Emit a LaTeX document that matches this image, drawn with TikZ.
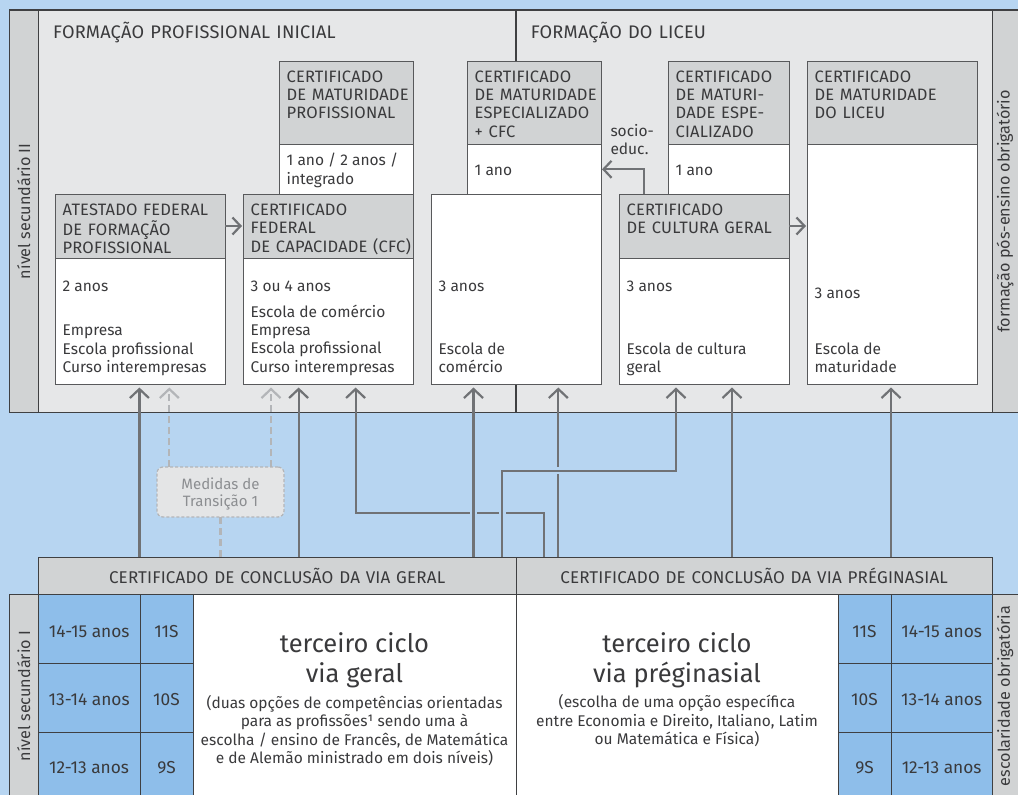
\documentclass[tikz,border=0pt]{standalone}
\usepackage{fontspec}
\setmainfont{Fira Sans}
\newfontfamily\capsfont{Fira Sans}[LetterSpace=1.0,WordSpace=1.25]
\usetikzlibrary{arrows.meta,calc}
\definecolor{bgblue}{HTML}{B7D5F1}
\definecolor{panelgray}{HTML}{E6E7E8}
\definecolor{hdrgray}{HTML}{D1D3D4}
\definecolor{cellblue}{HTML}{8EBEEA}
\definecolor{frameline}{HTML}{3F4042}
\definecolor{boxline}{HTML}{58595B}
\definecolor{arrgray}{HTML}{707275}
\definecolor{dashgray}{HTML}{B3B5B8}
\definecolor{txtgray}{HTML}{3A3A3C}
\definecolor{medtxt}{HTML}{8C8E91}
\definecolor{medfill}{HTML}{E4E5E6}
\newcommand{\tlines}[1]{\begin{tabular}[t]{@{}l@{}}#1\end{tabular}}
\newcommand{\tclines}[1]{\begin{tabular}[t]{@{}c@{}}#1\end{tabular}}
\begin{document}
\begin{tikzpicture}[x=1pt,y=-1pt,
  rbox/.style={draw=boxline, line width=1pt, anchor=north west, inner sep=0pt, outer sep=0pt},
  hdr/.style={rbox, fill=hdrgray},
  wbox/.style={rbox, fill=white},
  txt/.style={anchor=base west, inner sep=0pt, text=txtgray, font=\fontsize{15.5}{18.4}\selectfont},
  captxt/.style={anchor=base west, inner sep=0pt, text=txtgray, font=\capsfont\fontsize{16.5}{18.4}\selectfont},
  ctxt/.style={anchor=base, inner sep=0pt, text=txtgray, font=\fontsize{15.5}{18.4}\selectfont},
  ccaptxt/.style={anchor=base, inner sep=0pt, text=txtgray, font=\capsfont\fontsize{17}{18.4}\selectfont},
  cell/.style={anchor=base, inner sep=0pt, text=txtgray, font=\fontsize{17.3}{20}\selectfont},
  rtxt/.style={anchor=center, inner sep=0pt, rotate=90, text=txtgray, font=\fontsize{16.2}{18}\selectfont},
  big/.style={anchor=base, inner sep=0pt, text=txtgray, font=\fontsize{25.5}{29.7}\selectfont},
  arr/.style={draw=arrgray, line width=2.2pt, -{Straight Barb[length=9pt,width=19pt]}, shorten >=3.5pt},
  harr/.style={draw=arrgray, line width=2.2pt, -{Straight Barb[length=8pt,width=17pt]}, shorten >=1pt},
  halo/.style={draw=bgblue, line width=7pt},
  dasharr/.style={draw=dashgray, line width=2.2pt, dash pattern=on 7pt off 4pt, -{Straight Barb[length=9pt,width=19pt]}, shorten >=3.5pt},
  dashline/.style={draw=dashgray, line width=2.2pt, dash pattern=on 7pt off 4pt},
]
\useasboundingbox (0,0) rectangle (1018,795);
\clip (0,0) rectangle (1018,795);
\fill[bgblue] (0,0) rectangle (1018,795);

% ---------- top panel ----------
\node[rbox, draw=frameline, line width=1.2pt, fill=panelgray, minimum width=1020pt, minimum height=402.7pt] (panel) at (9.3,10) {};
\node[rbox, draw=frameline, line width=1.2pt, fill=hdrgray, minimum width=29pt, minimum height=402.7pt] (lstrip) at (9.3,10) {};
\node[rbox, draw=frameline, line width=1.2pt, fill=hdrgray, minimum width=40pt, minimum height=402.7pt] (rstrip) at (992.3,10) {};
\draw[frameline, line width=1.2pt] (panel.north -| 516,0) coordinate (dv1) -- (dv1 |- panel.south);
\node[rtxt] (lbl1) at (lstrip.center) {nível secundário II};
\node[rtxt] (lbl2) at ($(rstrip.west)+(12.7,0)$) {formação pós-ensino obrigatório};
\node[captxt, font=\capsfont\fontsize{18.2}{18.4}\selectfont] (t1) at (53,38.5) {FORMAÇÃO PROFISSIONAL INICIAL};
\node[captxt, font=\capsfont\fontsize{18.2}{18.4}\selectfont] (t2) at (530.7,38.5) {FORMAÇÃO DO LICEU};

% box 1
\node[hdr, minimum width=170pt, minimum height=64pt] (h1) at (55,194) {};
\node[wbox, minimum width=170pt, minimum height=126pt] (b1) at (55,258) {};
\node[captxt] at ($(h1.north west)+(7.5,21)$) {\tlines{ATESTADO FEDERAL\\DE FORMAÇÃO\\PROFISSIONAL}};
\node[txt] at ($(b1.north west)+(7.5,33.7)$) {2 anos};
\node[txt] at ($(b1.north west)+(7.5,77.7)$) {\tlines{Empresa\\Escola profissional\\Curso interempresas}};
% box 2
\node[hdr, minimum width=170pt, minimum height=64pt] (h2) at (243,194) {};
\node[wbox, minimum width=170pt, minimum height=126pt] (b2) at (243,258) {};
\node[captxt] at ($(h2.north west)+(7.5,21)$) {\tlines{CERTIFICADO\\FEDERAL\\DE CAPACIDADE (CFC)}};
\node[txt] at ($(b2.north west)+(7.5,33.7)$) {3 ou 4 anos};
\node[txt] at ($(b2.north west)+(7.5,59)$) {\tlines{Escola de comércio\\Empresa\\Escola profissional\\Curso interempresas}};
% box 3
\node[hdr, minimum width=134pt, minimum height=83pt] (h3) at (279,61) {};
\node[wbox, minimum width=134pt, minimum height=50pt] (b3) at (279,144) {};
\node[captxt] at ($(h3.north west)+(7.5,21)$) {\tlines{CERTIFICADO\\DE MATURIDADE\\PROFISSIONAL}};
\node[txt] at ($(b3.north west)+(7.5,21.7)$) {\tlines{1 ano / 2 anos /\\integrado}};
% box 4
\node[hdr, minimum width=134pt, minimum height=83pt] (h4) at (467,61) {};
\node[wbox, minimum width=134pt, minimum height=50pt] (b4) at (467,144) {};
\node[captxt] at ($(h4.north west)+(7.5,21)$) {\tlines{CERTIFICADO\\DE MATURIDADE\\ESPECIALIZADO\\+ CFC}};
\node[txt] at ($(b4.north west)+(7.5,31.7)$) {1 ano};
% box 5
\node[wbox, minimum width=170pt, minimum height=190pt] (b5) at (431,194) {};
\node[txt] at ($(b5.north west)+(7.5,97.7)$) {3 anos};
\node[txt] at ($(b5.north west)+(7.5,160)$) {\tlines{Escola de\\comércio}};
% box 6
\node[hdr, minimum width=121pt, minimum height=83pt] (h6) at (668,61) {};
\node[wbox, minimum width=121pt, minimum height=50pt] (b6) at (668,144) {};
\node[captxt] at ($(h6.north west)+(7.5,21)$) {\tlines{CERTIFICADO\\DE MATURI-\\DADE ESPE-\\CIALIZADO}};
\node[txt] at ($(b6.north west)+(7.5,31.7)$) {1 ano};
% box 7
\node[hdr, minimum width=170pt, minimum height=64pt] (h7) at (619,194) {};
\node[wbox, minimum width=170pt, minimum height=126pt] (b7) at (619,258) {};
\node[captxt] at ($(h7.north west)+(7.5,21)$) {\tlines{CERTIFICADO\\DE CULTURA GERAL}};
\node[txt] at ($(b7.north west)+(7.5,33.7)$) {3 anos};
\node[txt] at ($(b7.north west)+(7.5,96)$) {\tlines{Escola de cultura\\geral}};
% box 8
\node[hdr, minimum width=170pt, minimum height=83pt] (h8) at (807,61) {};
\node[wbox, minimum width=170pt, minimum height=240pt] (b8) at (807,144) {};
\node[captxt] at ($(h8.north west)+(7.5,21)$) {\tlines{CERTIFICADO\\DE MATURIDADE\\DO LICEU}};
\node[txt] at ($(b8.north west)+(7.5,154.3)$) {3 anos};
\node[txt] at ($(b8.north west)+(7.5,210)$) {\tlines{Escola de\\maturidade}};

% arrows inside panel
\draw[harr] (h1.east) -- (h2.west);
\draw[harr] (h7.east) -- (h7.east -| b8.west);
\coordinate (se0) at (644.3,194);
\coordinate (se1) at (644.3,169.3);
\draw[harr] (se0) -- (se1) -- (se1 -| b4.east);
\node[txt] (socio) at (610.3,136) {\tlines{socio-\\educ.}};

% ---------- bottom section ----------
\node[rbox, draw=frameline, fill=hdrgray, minimum width=477.7pt, minimum height=37pt] (cg) at (38.3,557) {};
\node[rbox, draw=frameline, fill=hdrgray, minimum width=476.3pt, minimum height=37pt] (cp) at (516,557) {};
\node[ccaptxt] at ($(cg.north)+(0,26.3)$) {CERTIFICADO DE CONCLUSÃO DA VIA GERAL};
\node[ccaptxt] at ($(cp.north)+(0,26.3)$) {CERTIFICADO DE CONCLUSÃO DA VIA PRÉGINASIAL};

\node[rbox, draw=frameline, fill=hdrgray, minimum width=29pt, minimum height=220pt] (ls2) at (9.3,594) {};
\node[rbox, draw=frameline, fill=hdrgray, minimum width=40pt, minimum height=220pt] (rs2) at (992.3,594) {};
\node[rtxt] at ($(ls2.north)+(0,102)$) {nível secundário I};
\node[rtxt] at ($(rs2.north west)+(12.7,102)$) {escolaridade obrigatória};

\node[rbox, draw=frameline, fill=white, minimum width=323pt, minimum height=220pt] (wg) at (193,594) {};
\node[rbox, draw=frameline, fill=white, minimum width=322pt, minimum height=220pt] (wp) at (516,594) {};

% cells left
\node[rbox, draw=frameline, fill=cellblue, minimum width=101.7pt, minimum height=69pt] (a1) at (38.3,594) {};
\node[rbox, draw=frameline, fill=cellblue, minimum width=53pt, minimum height=69pt] (c1) at (140,594) {};
\node[rbox, draw=frameline, fill=cellblue, minimum width=101.7pt, minimum height=69pt] (a2) at (38.3,663) {};
\node[rbox, draw=frameline, fill=cellblue, minimum width=53pt, minimum height=69pt] (c2) at (140,663) {};
\node[rbox, draw=frameline, fill=cellblue, minimum width=101.7pt, minimum height=80pt] (a3) at (38.3,732) {};
\node[rbox, draw=frameline, fill=cellblue, minimum width=53pt, minimum height=80pt] (c3) at (140,732) {};
% cells right
\node[rbox, draw=frameline, fill=cellblue, minimum width=53pt, minimum height=69pt] (c4) at (838,594) {};
\node[rbox, draw=frameline, fill=cellblue, minimum width=101.3pt, minimum height=69pt] (a4) at (891,594) {};
\node[rbox, draw=frameline, fill=cellblue, minimum width=53pt, minimum height=69pt] (c5) at (838,663) {};
\node[rbox, draw=frameline, fill=cellblue, minimum width=101.3pt, minimum height=69pt] (a5) at (891,663) {};
\node[rbox, draw=frameline, fill=cellblue, minimum width=53pt, minimum height=80pt] (c6) at (838,732) {};
\node[rbox, draw=frameline, fill=cellblue, minimum width=101.3pt, minimum height=80pt] (a6) at (891,732) {};

\node[cell] at ($(a1.north)+(0,43.3)$) {14-15 anos};
\node[cell] at ($(c1.north)+(0,43.3)$) {11S};
\node[cell] at ($(a2.north)+(0,42)$) {13-14 anos};
\node[cell] at ($(c2.north)+(0,42)$) {10S};
\node[cell] at ($(a3.north)+(0,41.3)$) {12-13 anos};
\node[cell] at ($(c3.north)+(0,41.3)$) {9S};
\node[cell] at ($(a4.north)+(0,43.3)$) {14-15 anos};
\node[cell] at ($(c4.north)+(0,43.3)$) {11S};
\node[cell] at ($(a5.north)+(0,42)$) {13-14 anos};
\node[cell] at ($(c5.north)+(0,42)$) {10S};
\node[cell] at ($(a6.north)+(0,41.3)$) {12-13 anos};
\node[cell] at ($(c6.north)+(0,41.3)$) {9S};

\node[big] at (354.5,652.3) {\tclines{terceiro ciclo\\via geral}};
\node[ctxt] at (354.5,708.3) {\tclines{(duas opções de competências orientadas\\para as profissões¹ sendo uma à\\escolha / ensino de Francês, de Matemática\\e de Alemão ministrado em dois níveis)}};
\node[big] at (677,652.3) {\tclines{terceiro ciclo\\via préginasial}};
\node[ctxt] at (677,707.7) {\tclines{(escolha de uma opção específica\\entre Economia e Direito, Italiano, Latim\\ou Matemática e Física)}};

% Medidas de transição
\node[rbox, draw=dashgray, fill=medfill, line width=1.2pt, dash pattern=on 3pt off 2pt, rounded corners=6pt, minimum width=127pt, minimum height=50pt] (med) at (157,467) {};
\node[anchor=base, inner sep=0pt, text=medtxt, font=\fontsize{15}{17.3}\selectfont] at ($(med.north)+(0,22.3)$) {\tclines{Medidas de\\Transição 1}};

% ---------- connectors ----------
\coordinate (d1) at (169.3,467);
\coordinate (d2) at (271,467);
\draw[dasharr] (d1) -- (d1 |- b1.south);
\draw[dasharr] (d2) -- (d2 |- b2.south);
\draw[dashline] (med.south) -- (med.south |- cg.north);

\coordinate (p1) at (139.4,557);
\coordinate (p2) at (298.6,557);
\coordinate (p6) at (544.3,557);
\coordinate (k6) at (355.6,513.3);
\coordinate (p3) at (473.5,557);
\coordinate (p7) at (502.3,557);
\coordinate (k7) at (676,470.7);
\coordinate (p8) at (558.3,557);
\coordinate (p9) at (732,557);
\coordinate (p10) at (891,557);

\draw[arr] (p1) -- (p1 |- b1.south);
\draw[arr] (p2) -- (p2 |- b2.south);
\draw[arr] (p6) |- (k6) -- (k6 |- b2.south);
\draw[arr] (p8) -- (p8 |- b5.south);
% gaps at crossings
\draw[halo] ($(p3)+(0,-30)$) -- ($(p3)+(0,-56)$);
\draw[halo] ($(p7)+(0,-30)$) -- ($(p7)+(0,-56)$);
\draw[halo] ($(k7)+(-125,0)$) -- ($(k7)+(-100,0)$);
\draw[arr] (p3) -- (p3 |- b5.south);
\draw[arr] (p7) |- (k7) -- (k7 |- b7.south);
\draw[arr] (p9) -- (p9 |- b7.south);
\draw[arr] (p10) -- (p10 |- b8.south);
\end{tikzpicture}
\end{document}
